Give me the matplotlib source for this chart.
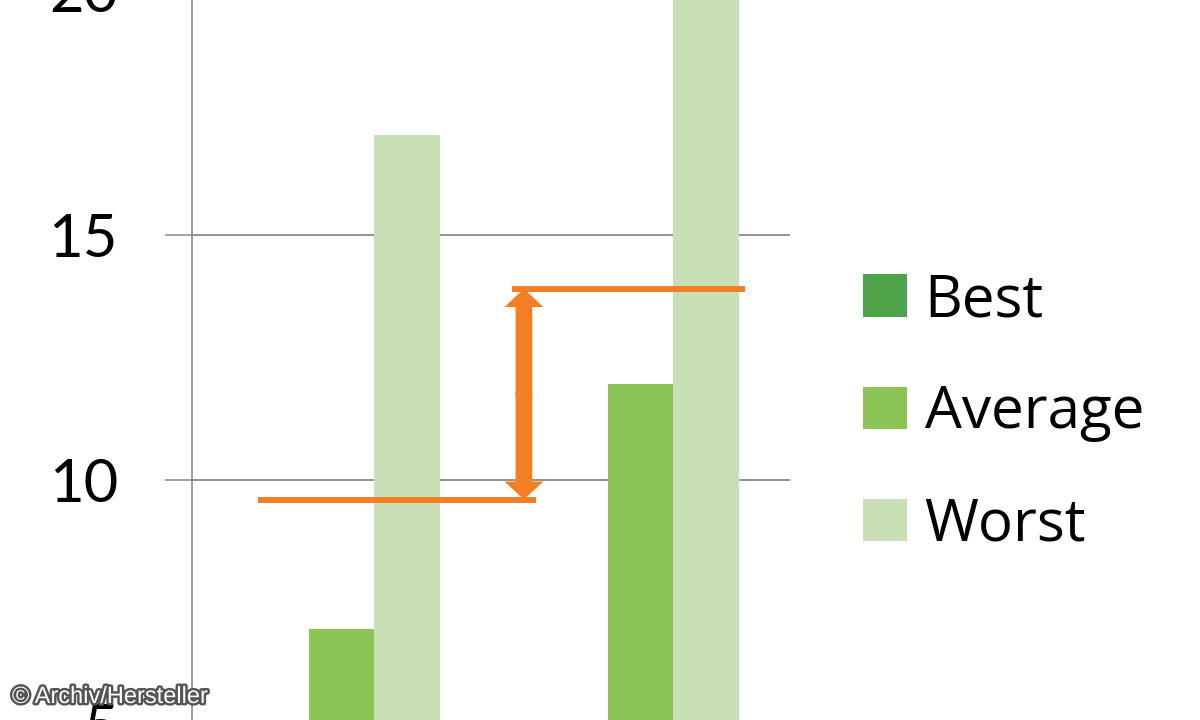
import numpy as np
import matplotlib.pyplot as plt
import matplotlib.patheffects as pe

categories = ["A", "B"]
best = [3.0, 4.0]        # below the visible window, estimated
average = [6.95, 11.95]
worst = [17.05, 21.0]
series_names = ["Best", "Average", "Worst"]
series_colors = ["#4ea34a", "#8cc556", "#c9e0b6"]

# orange step marking the gap between the two averages
low_level = 9.6
high_level = 13.9
low_span = [-0.28, 0.65]
high_span = [0.57, 1.35]
arrow_x = 0.61

plt.rcParams["font.family"] = ["Lato", "DejaVu Sans"]

fig = plt.figure(figsize=(12, 7.2), dpi=100)
ax = fig.add_axes([192 / 1200, -5 / 720, 598 / 1200, 735 / 720])

x = np.arange(len(categories))
w = 0.22
for i, (vals, name, col) in enumerate(zip([best, average, worst], series_names, series_colors)):
    ax.bar(x + (i - 1) * w, vals, width=w, color=col, label=name, zorder=2)

ax.set_xlim(-0.5, 1.5)
ax.set_ylim(5, 20)
ax.set_yticks([5, 10, 15, 20])
ax.set_xticks([])

grey = "#8a8a8a"
ax.yaxis.grid(True, color=grey, lw=1.3, zorder=1)
ax.tick_params(axis="y", length=19.4, width=1.1, color=grey, pad=34, labelsize=43)
for s in ["top", "right", "bottom"]:
    ax.spines[s].set_visible(False)
ax.spines["left"].set_color(grey)
ax.spines["left"].set_linewidth(1.2)

orange = "#f47f22"
ax.plot(low_span, [low_level, low_level], color=orange, lw=4.3, solid_capstyle="butt", zorder=3)
ax.plot(high_span, [high_level, high_level], color=orange, lw=4.3, solid_capstyle="butt", zorder=3)
mid = (low_level + high_level) / 2
for target in [high_level, low_level]:
    ax.arrow(arrow_x, mid + (target - mid) * -0.02, 0, (target - mid) * 1.02, width=0.056,
             head_width=0.13, head_length=0.37, length_includes_head=True, color=orange,
             lw=0, zorder=4)

ax.legend(loc="center left", bbox_to_anchor=(840 / 1200, 1 - 413 / 720), bbox_transform=fig.transFigure,
          frameon=False, prop={"family": ["Open Sans", "DejaVu Sans"], "size": 42},
          handlelength=0.75, handleheight=0.75, handletextpad=0.3,
          labelspacing=0.92, borderaxespad=0)

fig.text(12 / 1200, 1 - 697 / 720, "\u00a9 Archiv/Hersteller", color="white", fontsize=17,
         family=["Liberation Sans Narrow", "Liberation Sans"], va="center", ha="left",
         path_effects=[pe.withStroke(linewidth=3.5, foreground="#555555")], zorder=10)

fig.savefig("out.png", dpi=100)
